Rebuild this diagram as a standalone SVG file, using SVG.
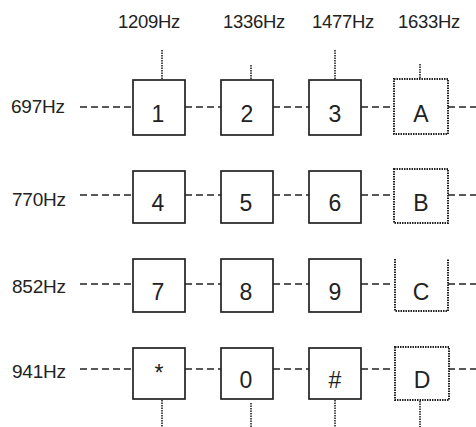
<svg xmlns="http://www.w3.org/2000/svg" width="476" height="427" viewBox="0 0 476 427">
<style>
text{font-family:"Liberation Sans",Arial,sans-serif;fill:#222}
.hz{font-size:18.5px;letter-spacing:-0.3px}
.row{font-size:19px;letter-spacing:-0.2px}
.key{font-size:23px;text-anchor:middle}
.box{fill:#fff;stroke:#222;stroke-width:1.7}
.opt{fill:#fff;stroke:#222;stroke-width:2;stroke-dasharray:1.5 1}
.dash{stroke:#222;stroke-width:1.5;stroke-dasharray:7 4;fill:none}
.dot{stroke:#222;stroke-width:1.6;stroke-dasharray:1.5 1;fill:none}
</style>
<rect width="476" height="427" fill="#fff"/>
<g id="labels">
<text class="hz" x="118" y="28">1209Hz</text>
<text class="hz" x="223" y="28">1336Hz</text>
<text class="hz" x="312" y="28">1477Hz</text>
<text class="hz" x="398" y="28">1633Hz</text>
<text class="row" x="11" y="113">697Hz</text>
<text class="row" x="12" y="206">770Hz</text>
<text class="row" x="12" y="293">852Hz</text>
<text class="row" x="12" y="378">941Hz</text>
</g>
<g id="connectors">
<path class="dash" d="M80 107H133M185 107H221M273 107H309M361 107H394M448 107H476"/>
<path class="dash" d="M80 195H133M185 195H221M273 195H309M361 195H394M448 195H476"/>
<path class="dash" d="M80 284H133M185 284H221M273 284H309M361 284H394M448 284H476"/>
<path class="dash" d="M80 369H133M185 369H221M273 369H309M361 369H394M448 369H476"/>
<path class="dot" d="M162 50V80M251 65V80M335 50V80M420 64V79"/>
<path class="dot" d="M162 400V427M251 403V427M335 400V427M420 401V427"/>
</g>
<g id="k1"><rect class="box" x="133" y="80" width="52" height="55"/><text class="key" x="158" y="122">1</text></g>
<g id="k2"><rect class="box" x="221" y="80" width="52" height="55"/><text class="key" x="247" y="122">2</text></g>
<g id="k3"><rect class="box" x="309" y="80" width="52" height="55"/><text class="key" x="335" y="122">3</text></g>
<g id="kA"><rect class="opt" x="394" y="79" width="54" height="55"/><text class="key" x="421" y="122">A</text></g>
<g id="k4"><rect class="box" x="133" y="171" width="52" height="52"/><text class="key" x="158" y="211">4</text></g>
<g id="k5"><rect class="box" x="221" y="171" width="52" height="52"/><text class="key" x="246" y="211">5</text></g>
<g id="k6"><rect class="box" x="309" y="171" width="52" height="52"/><text class="key" x="335" y="211">6</text></g>
<g id="kB"><rect class="opt" x="394" y="169" width="54" height="54"/><text class="key" x="421" y="211">B</text></g>
<g id="k7"><rect class="box" x="133" y="259" width="52" height="53"/><text class="key" x="158" y="300">7</text></g>
<g id="k8"><rect class="box" x="221" y="259" width="52" height="53"/><text class="key" x="246" y="300">8</text></g>
<g id="k9"><rect class="box" x="309" y="259" width="52" height="53"/><text class="key" x="335" y="300">9</text></g>
<g id="kC"><path class="opt" d="M395 259V311H448V259" fill="none"/><text class="key" x="421" y="300">C</text></g>
<g id="kStar"><rect class="box" x="133" y="348" width="52" height="51"/><text class="key" x="159" y="381">*</text></g>
<g id="k0"><rect class="box" x="221" y="348" width="52" height="51"/><text class="key" x="246" y="388">0</text></g>
<g id="kHash"><rect class="box" x="309" y="348" width="52" height="51"/><text class="key" x="335" y="388">#</text></g>
<g id="kD"><rect class="opt" x="395" y="347" width="54" height="53"/><text class="key" x="422" y="388">D</text></g>
</svg>
